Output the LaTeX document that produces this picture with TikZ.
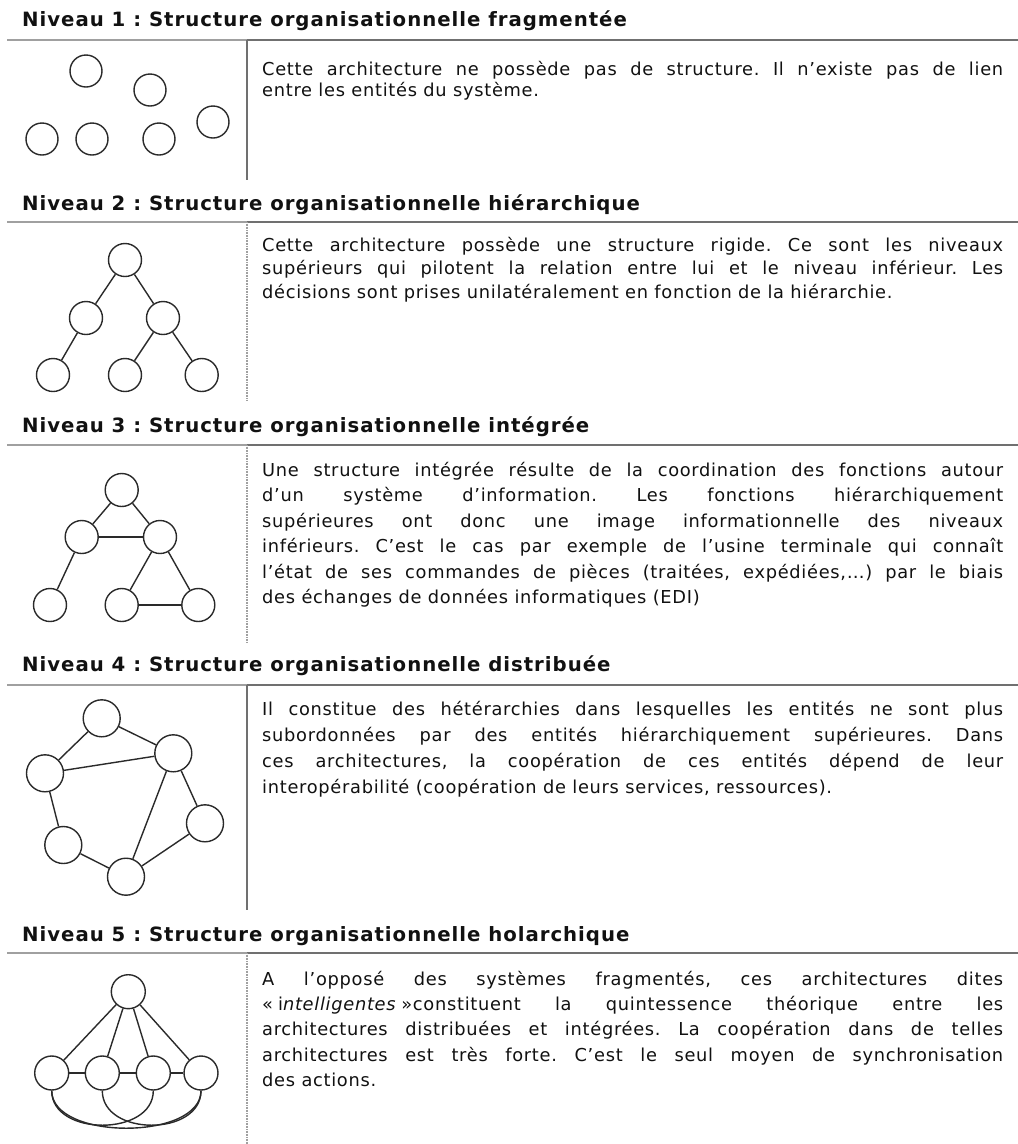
\documentclass[tikz,border=0pt]{standalone}
\usepackage{fontspec}
\setmainfont{DejaVu Sans}
\newfontfamily\bodyfont[LetterSpace=4]{DejaVu Sans}
\newfontfamily\headfont[LetterSpace=5]{DejaVu Sans}
\definecolor{linec}{HTML}{2A2A2A}
\definecolor{ruledark}{HTML}{707070}
\definecolor{rulelight}{HTML}{A0A0A0}
\definecolor{txt}{HTML}{111111}
\hbadness=10000
\hfuzz=50pt
\frenchspacing
\newcommand{\jline}[1]{\hbox to 741pt{#1}}
\newcommand{\lline}[1]{\hbox{#1}}
\newcommand{\parablock}[2]{\vtop{\baselineskip=#1pt\lineskiplimit=-20pt\relax #2}}
\tikzset{
  ent/.style={circle, draw=linec, line width=1.4pt, minimum size=33pt, inner sep=0pt, fill=white},
  bigent/.style={ent, minimum size=37pt},
  link/.style={draw=linec, line width=1.4pt},
  headtext/.style={anchor=base west, inner sep=0pt, text=txt, font=\headfont\bfseries\fontsize{19.7}{22}\selectfont},
  bodytext/.style={anchor=base west, inner sep=0pt, text=txt, font=\bodyfont\fontsize{17.8}{24}\selectfont\frenchspacing},
  hrule/.style={line width=2pt},
  vdark/.style={draw=ruledark, line width=1.5pt},
  vlight/.style={draw=rulelight, line width=1.5pt, dash pattern=on 1pt off 0.6pt},
}
\begin{document}
\begin{tikzpicture}[x=1pt,y=-1pt]
\fill[white] (0,0) rectangle (1018,1144);
\useasboundingbox (0,0) rectangle (1018,1144);

% ---------- rules ----------
\foreach \ry in {40,222,445,685,953}{
  \draw[hrule, rulelight] (7,\ry) -- (247,\ry);
  \draw[hrule, ruledark] (247,\ry) -- (1018,\ry);
}
\draw[vdark]  (247,40)  -- (247,180);
\draw[vlight] (247,222) -- (247,400);
\draw[vlight] (247,445) -- (247,642);
\draw[vdark]  (247,685) -- (247,910);
\draw[vlight] (247,953) -- (247,1144);

% ---------- Niveau 1 ----------
\node[headtext] (h1) at (22,26.7) {Niveau 1 : Structure organisationnelle fragmentée};
\node[ent, minimum size=32pt] (a1) at (86,71) {};
\node[ent, minimum size=32pt] (a2) at (150,90) {};
\node[ent, minimum size=32pt] (a3) at (213,122) {};
\node[ent, minimum size=32pt] (a4) at (42,139) {};
\node[ent, minimum size=32pt] (a5) at (92,139) {};
\node[ent, minimum size=32pt] (a6) at (159,139) {};
\node[bodytext] (t1) at (262,75.5) {\parablock{20.5}{%
\jline{Cette architecture ne possède pas de structure. Il n’existe pas de lien}%
\lline{entre les entités du système.}}};

% ---------- Niveau 2 ----------
\node[headtext] (h2) at (22,210) {Niveau 2 : Structure organisationnelle hiérarchique};
\node[ent] (b1) at (125,260) {};
\node[ent] (b2) at (86,318) {};
\node[ent] (b3) at (163,318) {};
\node[ent] (b4) at (53,375) {};
\node[ent] (b5) at (125,375) {};
\node[ent] (b6) at (201.7,375) {};
\draw[link] (b1) -- (b2);
\draw[link] (b1) -- (b3);
\draw[link] (b2) -- (b4);
\draw[link] (b3) -- (b5);
\draw[link] (b3) -- (b6);
\node[bodytext] (t2) at (262,251.5) {\parablock{23.3}{%
\jline{Cette architecture possède une structure rigide. Ce sont les niveaux}%
\jline{supérieurs qui pilotent la relation entre lui et le niveau inférieur. Les}%
\lline{décisions sont prises unilatéralement en fonction de la hiérarchie.}}};

% ---------- Niveau 3 ----------
\node[headtext] (h3) at (22,432.7) {Niveau 3 : Structure organisationnelle intégrée};
\node[ent] (c1) at (121.7,490) {};
\node[ent] (c2) at (81.7,537) {};
\node[ent] (c3) at (160,537) {};
\node[ent] (c4) at (50,605) {};
\node[ent] (c5) at (121.7,605) {};
\node[ent] (c6) at (198.3,605) {};
\draw[link] (c1) -- (c2);
\draw[link] (c1) -- (c3);
\draw[link] (c2) -- (c3);
\draw[link] (c2) -- (c4);
\draw[link] (c3) -- (c5);
\draw[link] (c3) -- (c6);
\draw[link] (c5) -- (c6);
\node[bodytext] (t3) at (262,476) {\parablock{25.5}{%
\jline{Une structure intégrée résulte de la coordination des fonctions autour}%
\jline{d’un système d’information. Les fonctions hiérarchiquement}%
\jline{supérieures ont donc une image informationnelle des niveaux}%
\jline{inférieurs. C’est le cas par exemple de l’usine terminale qui connaît}%
\jline{l’état de ses commandes de pièces (traitées, expédiées,…) par le biais}%
\lline{des échanges de données informatiques (EDI)}}};

% ---------- Niveau 4 ----------
\node[headtext] (h4) at (22,671.7) {Niveau 4 : Structure organisationnelle distribuée};
\node[bigent] (d1) at (101.7,718.3) {};
\node[bigent] (d2) at (173.3,753.3) {};
\node[bigent] (d3) at (45,773.3) {};
\node[bigent] (d4) at (205,823.3) {};
\node[bigent] (d5) at (63.3,845) {};
\node[bigent] (d6) at (126,876.7) {};
\draw[link] (d1) -- (d3);
\draw[link] (d1) -- (d2);
\draw[link] (d3) -- (d2);
\draw[link] (d3) -- (d5);
\draw[link] (d2) -- (d6);
\draw[link] (d2) -- (d4);
\draw[link] (d5) -- (d6);
\draw[link] (d4) -- (d6);
\node[bodytext] (t4) at (262,715.7) {\parablock{25.9}{%
\jline{Il constitue des hétérarchies dans lesquelles les entités ne sont plus}%
\jline{subordonnées par des entités hiérarchiquement supérieures. Dans}%
\jline{ces architectures, la coopération de ces entités dépend de leur}%
\lline{interopérabilité (coopération de leurs services, ressources).}}};

% ---------- Niveau 5 ----------
\node[headtext] (h5) at (22,941.7) {Niveau 5 : Structure organisationnelle holarchique};
\node[ent, minimum size=34pt] (e0) at (128.3,991.7) {};
\node[ent, minimum size=34pt] (e1) at (51.7,1073) {};
\node[ent, minimum size=34pt] (e2) at (102.3,1073) {};
\node[ent, minimum size=34pt] (e3) at (153.3,1073) {};
\node[ent, minimum size=34pt] (e4) at (201,1073) {};
\draw[link] (e0) -- (e1);
\draw[link] (e0) -- (e2);
\draw[link] (e0) -- (e3);
\draw[link] (e0) -- (e4);
\draw[link] (e1) -- (e2);
\draw[link] (e2) -- (e3);
\draw[link] (e3) -- (e4);
\draw[link] (e1.south) .. controls +(0,46) and +(0,46) .. (e3.south);
\draw[link] (e2.south) .. controls +(0,46) and +(0,46) .. (e4.south);
\draw[link] (e1.south) .. controls +(0,50) and +(0,50) .. (e4.south);
\node[bodytext] (t5) at (262,985) {\parablock{25.4}{%
\jline{A l’opposé des systèmes fragmentés, ces architectures dites}%
\jline{«\kern5pt i\textit{ntelligentes}\kern5pt»constituent la quintessence théorique entre les}%
\jline{architectures distribuées et intégrées. La coopération dans de telles}%
\jline{architectures est très forte. C’est le seul moyen de synchronisation}%
\lline{des actions.}}};
\end{tikzpicture}
\end{document}
